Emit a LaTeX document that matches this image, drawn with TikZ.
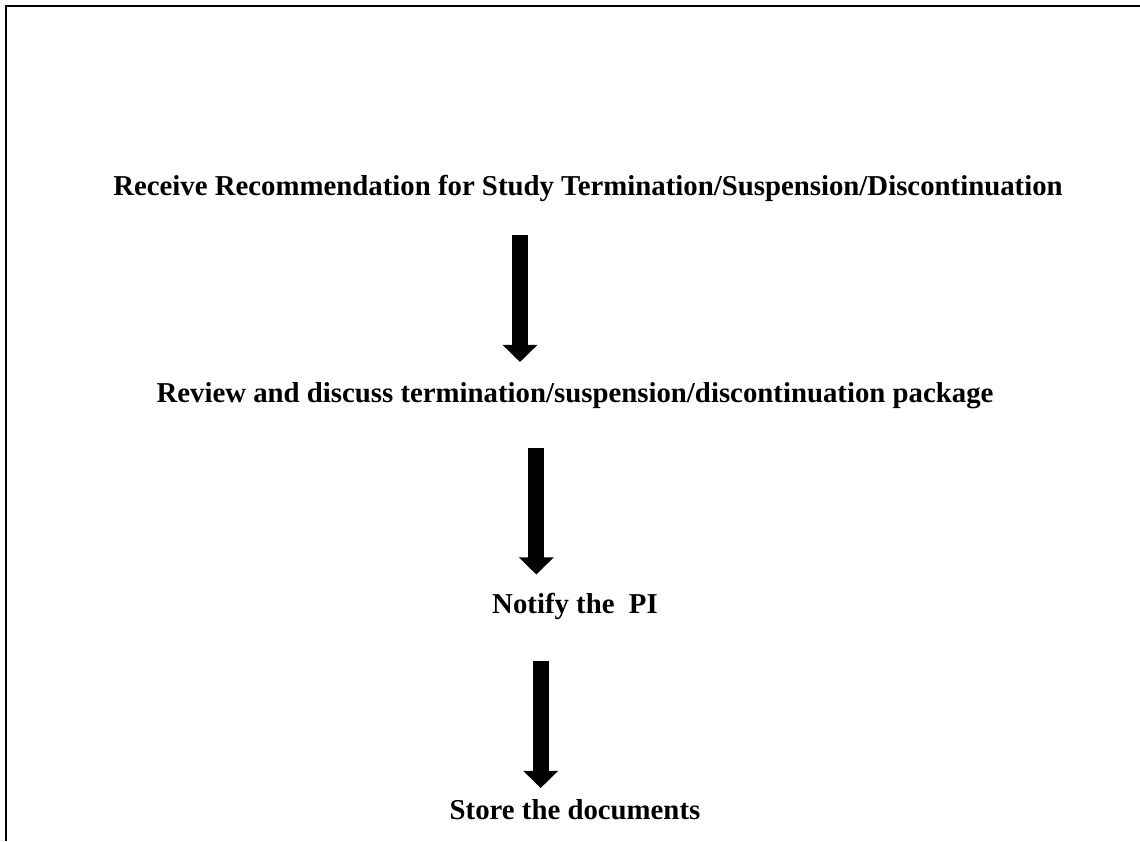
\documentclass[tikz,border=0pt]{standalone}
\usepackage{fontspec}
\setmainfont{Liberation Serif}
\usetikzlibrary{arrows.meta}
\tikzset{
  frame/.style={line width=1pt, line join=miter},
  steptext/.style={anchor=base, inner sep=0pt, font=\bfseries\fontsize{14.4pt}{17pt}\selectfont},
  bigarrow/.style={line width=8pt, line cap=butt, -{Triangle[width=17pt, length=8.6pt]}}
}
\begin{document}
\begin{tikzpicture}[x=0.5pt, y=-0.5pt]
  \useasboundingbox (0,0) rectangle (1140,841);
  % open frame: top and left edges
  \draw[frame] (1140,6) -- (6,6) -- (6,841);

  % process steps
  \node[steptext] (recv)   at (588,195) {Receive Recommendation for Study Termination/Suspension/Discontinuation};
  \node[steptext] (review) at (575,402)   {Review and discuss termination/suspension/discontinuation package};
  \node[steptext] (notify) at (575,613) {Notify the\ \ PI};
  \node[steptext] (store)  at (575,819)   {Store the documents};

  % arrow ends
  \coordinate (a1s) at (520,235);   \coordinate (a1e) at (520,362);
  \coordinate (a2s) at (536.3,448); \coordinate (a2e) at (536.3,574.5);
  \coordinate (a3s) at (540.7,661); \coordinate (a3e) at (540.7,788);

  \draw[bigarrow] (a1s) -- (a1e);
  \draw[bigarrow] (a2s) -- (a2e);
  \draw[bigarrow] (a3s) -- (a3e);
\end{tikzpicture}
\end{document}
